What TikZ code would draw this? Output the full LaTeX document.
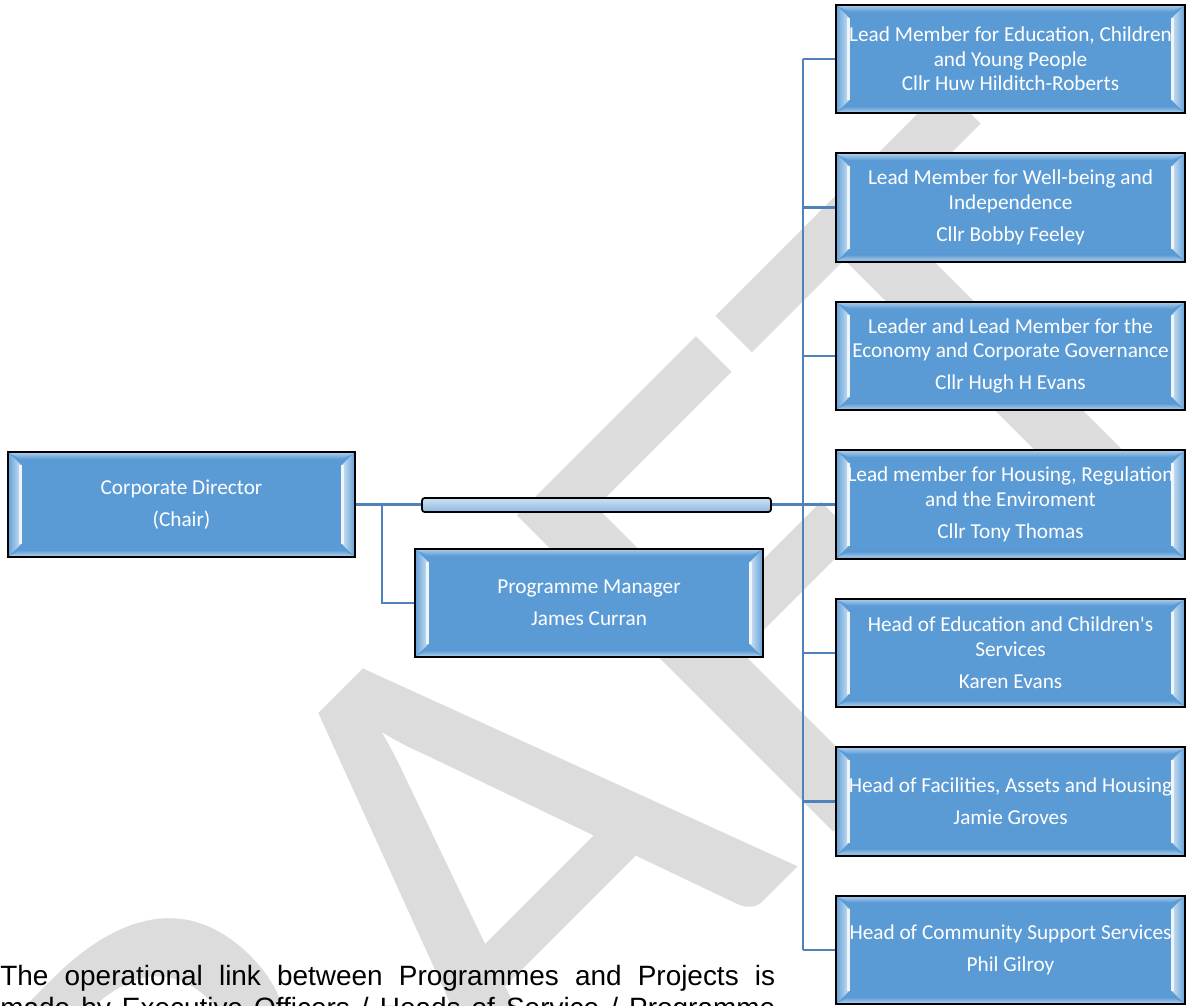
\documentclass[tikz,border=0pt]{standalone}
\usepackage{fontspec}
\setmainfont{Carlito}
\newfontfamily\arialfont{Liberation Sans}
\usepackage{tikz}
\usetikzlibrary{positioning,calc}
\definecolor{boxblue}{HTML}{5B9BD5}
\definecolor{linkblue}{HTML}{4F81BD}
\definecolor{markgray}{HTML}{DCDCDC}

\begin{document}
\begin{tikzpicture}[
    x=0.02cm, y=-0.02cm,
    node distance=0.765cm,
    orgbox/.style={rectangle, draw=black, fill=boxblue, line width=1pt, minimum width=6.98cm, minimum height=2.17cm, inner sep=0pt, text=white, align=center, font=\fontsize{12.1}{13.9}\selectfont,
        path picture={
            \coordinate (pnw) at (path picture bounding box.north west);
            \coordinate (pne) at (path picture bounding box.north east);
            \coordinate (psw) at (path picture bounding box.south west);
            \coordinate (pse) at (path picture bounding box.south east);
            \fill[top color=boxblue!55!white, bottom color=boxblue] ($(pnw)+(0.02cm,-0.02cm)$) -- ($(pne)+(-0.02cm,-0.02cm)$) -- ($(pne)+(-0.26cm,-0.14cm)$) -- ($(pnw)+(0.26cm,-0.14cm)$) -- cycle;
            \fill[bottom color=boxblue!50!white, top color=boxblue] ($(psw)+(0.02cm,0.02cm)$) -- ($(pse)+(-0.02cm,0.02cm)$) -- ($(pse)+(-0.26cm,0.14cm)$) -- ($(psw)+(0.26cm,0.14cm)$) -- cycle;
            \fill[left color=boxblue!90!white, right color=boxblue!30!white] ($(pnw)+(0.02cm,-0.02cm)$) -- ($(pnw)+(0.26cm,-0.26cm)$) -- ($(psw)+(0.26cm,0.26cm)$) -- ($(psw)+(0.02cm,0.02cm)$) -- cycle;
            \fill[right color=boxblue!90!white, left color=boxblue!30!white] ($(pne)+(-0.02cm,-0.02cm)$) -- ($(pne)+(-0.26cm,-0.26cm)$) -- ($(pse)+(-0.26cm,0.26cm)$) -- ($(pse)+(-0.02cm,0.02cm)$) -- cycle;
            \draw[boxblue!10!white, line width=1.2pt] ($(pnw)+(0.25cm,-0.26cm)$) -- ($(psw)+(0.25cm,0.26cm)$);
            \draw[boxblue!10!white, line width=1.2pt] ($(pne)+(-0.25cm,-0.26cm)$) -- ($(pse)+(-0.25cm,0.26cm)$);
        }},
    barbox/.style={rectangle, draw=black, line width=1pt, rounded corners=1.5pt, top color=boxblue!30!white, bottom color=boxblue!70!white, minimum width=6.98cm, minimum height=0.28cm, inner sep=0pt},
    link/.style={draw=linkblue, line width=1.5pt},
    watermark/.style={rotate=45, text=markgray, inner sep=0pt, font=\fontsize{397}{400}\selectfont},
    notetext/.style={anchor=base west, inner sep=0pt, font=\arialfont\fontsize{15.9}{18}\selectfont}
]
    \useasboundingbox (0,0) rectangle (1192,1005);
    \clip (0,0) rectangle (1192,1005);

    \node[watermark] (draftmark) at (447,902) {DRAFT};

    \node[notetext] (opnote) at (0,985) {\makebox[15.5cm][s]{The operational link between Programmes and Projects is}};
    \node[notetext] (opnotecont) at (0,1017) {\makebox[15.5cm][s]{made by Executive Officers / Heads of Service / Programme}};

    \node[orgbox] (lmedu) at (1010.5,59) {Lead Member for Education, Children\\and Young People\\Cllr Huw Hilditch-Roberts};
    \node[orgbox, below=of lmedu] (lmwell) {Lead Member for Well-being and\\Independence\\[4.4pt]Cllr Bobby Feeley};
    \node[orgbox, below=of lmwell] (leader) {Leader and Lead Member for the\\Economy and Corporate Governance\\[4.4pt]Cllr Hugh H Evans};
    \node[orgbox, below=of leader] (lmhous) {Lead member for Housing, Regulation\\and the Enviroment\\[4.4pt]Cllr Tony Thomas};
    \node[orgbox, below=of lmhous] (hedu) {Head of Education and Children\textquotesingle s\\Services\\[4.4pt]Karen Evans};
    \node[orgbox, below=of hedu] (hfac) {Head of Facilities, Assets and Housing\\[4.4pt]Jamie Groves};
    \node[orgbox, below=of hfac] (hcomm) {Head of Community Support Services\\[4.4pt]Phil Gilroy};

    \node[orgbox, minimum height=2.1cm, minimum width=6.94cm] (director) at (181.5,504.5) {Corporate Director\\[4.4pt](Chair)};
    \node[orgbox, minimum width=6.96cm] (progman) at (589,603) {Programme Manager\\[4.4pt]James Curran};

    \coordinate (spine) at (803,505);
    \coordinate (split) at (382,505);
    \draw[link] (lmedu.west -| spine) -- (hcomm.west -| spine);
    \foreach \b in {lmedu,lmwell,leader,lmhous,hedu,hfac,hcomm}
        \draw[link] (\b.west -| spine) -- (\b.west);
    \draw[link] (director.east) -- (director.east -| spine);
    \draw[link] (split) |- (progman.west);

    \node[barbox] (linkbar) at (596.5,505) {};
\end{tikzpicture}
\end{document}
